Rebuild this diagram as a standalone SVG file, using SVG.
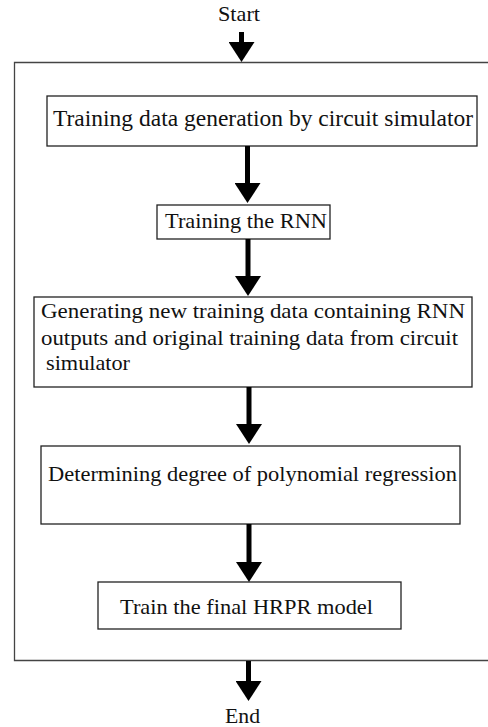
<svg xmlns="http://www.w3.org/2000/svg" width="488" height="727" viewBox="0 0 488 727">
  <style>
    .box { fill: #ffffff; stroke: #222222; stroke-width: 1.3; }
    .frame { fill: none; stroke: #444444; stroke-width: 1.3; }
    .lbl { font-family: "Liberation Serif", "Times New Roman", serif; fill: #111111; }
    .flow { stroke: #000000; stroke-width: 5; fill: none; marker-end: url(#head); }
  </style>
  <defs>
    <marker id="head" markerUnits="userSpaceOnUse" viewBox="0 0 20 26" refX="0" refY="13" markerWidth="20" markerHeight="26" orient="auto">
      <path d="M0,0 L20,13 L0,26 Z" fill="#000000"/>
    </marker>
  </defs>

  <rect width="488" height="727" fill="#ffffff"/>

  <!-- enclosing frame, open to the right -->
  <path class="frame" d="M500,62.5 H14.5 V660.5 H500"/>

  <g id="start">
    <text class="lbl" x="218" y="21" font-size="21" textLength="42" lengthAdjust="spacingAndGlyphs">Start</text>
  </g>

  <g id="step1">
    <rect class="box" x="47" y="96" width="430" height="50"/>
    <text class="lbl" x="53" y="126" font-size="23" textLength="420" lengthAdjust="spacingAndGlyphs">Training data generation by circuit simulator</text>
  </g>

  <g id="step2">
    <rect class="box" x="157" y="205" width="173" height="34"/>
    <text class="lbl" x="165" y="228" font-size="22" textLength="162" lengthAdjust="spacingAndGlyphs">Training the RNN</text>
  </g>

  <g id="step3">
    <rect class="box" x="34" y="297" width="438" height="90"/>
    <text class="lbl" x="41" y="318" font-size="22" textLength="424" lengthAdjust="spacingAndGlyphs">Generating new training data containing RNN</text>
    <text class="lbl" x="41" y="345" font-size="22" textLength="417" lengthAdjust="spacingAndGlyphs">outputs and original training data from circuit</text>
    <text class="lbl" x="46" y="370" font-size="22" textLength="84" lengthAdjust="spacingAndGlyphs">simulator</text>
  </g>

  <g id="step4">
    <rect class="box" x="41" y="446" width="419" height="78"/>
    <text class="lbl" x="48" y="481" font-size="22" textLength="409" lengthAdjust="spacingAndGlyphs">Determining degree of polynomial regression</text>
  </g>

  <g id="step5">
    <rect class="box" x="98" y="582" width="303" height="47"/>
    <text class="lbl" x="120" y="614" font-size="22" textLength="253" lengthAdjust="spacingAndGlyphs">Train the final HRPR model</text>
  </g>

  <g id="end">
    <text class="lbl" x="225" y="723" font-size="21" textLength="35" lengthAdjust="spacingAndGlyphs">End</text>
  </g>

  <g id="connectors">
    <line class="flow" x1="241.5" y1="32" x2="241.5" y2="42"/>
    <line class="flow" x1="247.5" y1="146" x2="247.5" y2="183"/>
    <line class="flow" x1="248" y1="239" x2="248" y2="276"/>
    <line class="flow" x1="249" y1="387" x2="249" y2="424"/>
    <line class="flow" x1="249" y1="524" x2="249" y2="562"/>
    <line class="flow" x1="248.5" y1="661" x2="248.5" y2="681"/>
  </g>
</svg>
